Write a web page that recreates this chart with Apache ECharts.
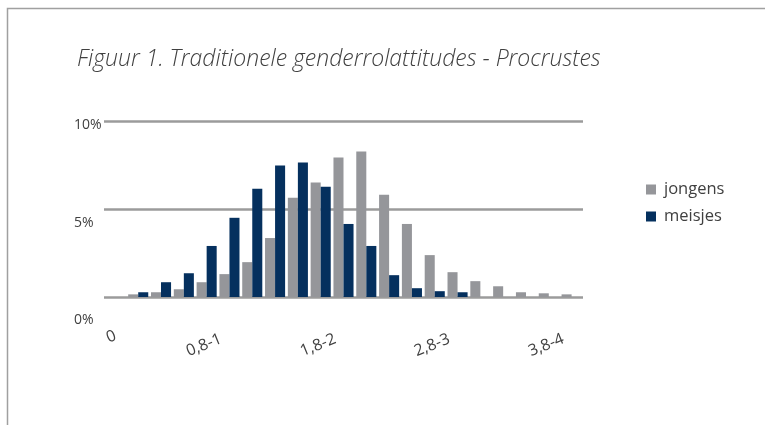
<!DOCTYPE html>
<html lang="nl">
<head>
    <meta charset="UTF-8">
    <title>Figuur 1</title>
    <style>
        html, body { margin: 0; padding: 0; background: #fff; }
    </style>
</head>
<body>
    <div id="main" style="width: 765px; height: 425px;"></div>

    <script src="https://cdn.jsdelivr.net/npm/echarts@6/dist/echarts.min.js"></script>
    <script>
        // categorieen (score-klassen)
        var categories = ['0', '0-0,2', '0,2-0,4', '0,4-0,6', '0,6-0,8', '0,8-1',
            '1-1,2', '1,2-1,4', '1,4-1,6', '1,6-1,8', '1,8-2',
            '2-2,2', '2,2-2,4', '2,4-2,6', '2,6-2,8', '2,8-3',
            '3-3,2', '3,2-3,4', '3,4-3,6', '3,6-3,8', '3,8-4'];

        // percentages per klasse
        var jongens = [0, 0.15, 0.27, 0.44, 0.84, 1.3, 1.98, 3.35, 5.64, 6.5, 7.93,
            8.27, 5.81, 4.15, 2.38, 1.41, 0.9, 0.61, 0.27, 0.21, 0.15];
        var meisjes = [0, 0.27, 0.84, 1.35, 2.9, 4.5, 6.15, 7.47, 7.64, 6.27, 4.15,
            2.9, 1.24, 0.5, 0.33, 0.27, 0, 0, 0, 0, 0];

        var yTicks = [0, 5, 10];

        var font = 'Open Sans';
        var textColor = '#404040';

        var myChart = echarts.init(document.getElementById('main'));
        var option = {
            backgroundColor: '#fff',
            animation: false,
            title: {
                text: 'Figuur 1. Traditionele genderrolattitudes - Procrustes',
                left: 72,
                top: 43,
                textStyle: {
                    fontFamily: font,
                    fontStyle: 'italic',
                    fontWeight: 300,
                    fontSize: 23,
                    color: textColor
                }
            },
            // kader om de figuur
            graphic: [{
                type: 'rect',
                shape: { x: 7.5, y: 8.5, width: 800, height: 450 },
                style: { fill: 'none', stroke: '#a0a0a0', lineWidth: 1.5 },
                silent: true
            }],
            legend: {
                orient: 'vertical',
                left: 641,
                top: 176,
                itemWidth: 10,
                itemHeight: 10,
                itemGap: 10,
                icon: 'rect',
                textStyle: { fontFamily: font, fontSize: 16.5, color: textColor, padding: [0, 0, 0, 3] },
                data: ['jongens', 'meisjes']
            },
            grid: {
                left: 104,
                right: 182,
                top: 121,
                bottom: 128
            },
            xAxis: {
                type: 'category',
                data: categories,
                axisLine: { show: false },
                axisTick: { show: false },
                axisLabel: {
                    interval: 4,
                    rotate: 22,
                    margin: 38,
                    formatter: function (v) {
                        return v === '0' ? '{z|' + v + '}' : '{r|' + v + '}';
                    },
                    rich: {
                        z: { fontFamily: font, fontSize: 16, color: textColor },
                        r: { fontFamily: font, fontSize: 16, color: textColor, padding: [0, 9, 0, 0] }
                    }
                }
            },
            yAxis: {
                type: 'value',
                min: 0,
                max: 10,
                interval: 5,
                axisLine: { show: false },
                axisTick: { show: false },
                splitLine: { lineStyle: { color: '#9b9b9b', width: 2.5 } },
                axisLabel: {
                    align: 'left',
                    margin: 30,
                    formatter: function (v) {
                        var idx = yTicks.indexOf(v);
                        return '{t' + idx + '|' + v + '%}';
                    },
                    rich: {
                        t0: { padding: [47, 0, 0, 0], fontFamily: font, fontSize: 14, color: textColor },
                        t1: { padding: [29, 0, 0, 0], fontFamily: font, fontSize: 14, color: textColor },
                        t2: { padding: [9, 0, 0, 0], fontFamily: font, fontSize: 14, color: textColor }
                    }
                }
            },
            series: [
                {
                    name: 'jongens',
                    type: 'bar',
                    data: jongens,
                    barGap: '0%',
                    barCategoryGap: '12%',
                    itemStyle: { color: '#95969a' }
                },
                {
                    name: 'meisjes',
                    type: 'bar',
                    data: meisjes,
                    itemStyle: { color: '#05305e' }
                }
            ]
        };
        myChart.setOption(option);
    </script>
</body>
</html>
